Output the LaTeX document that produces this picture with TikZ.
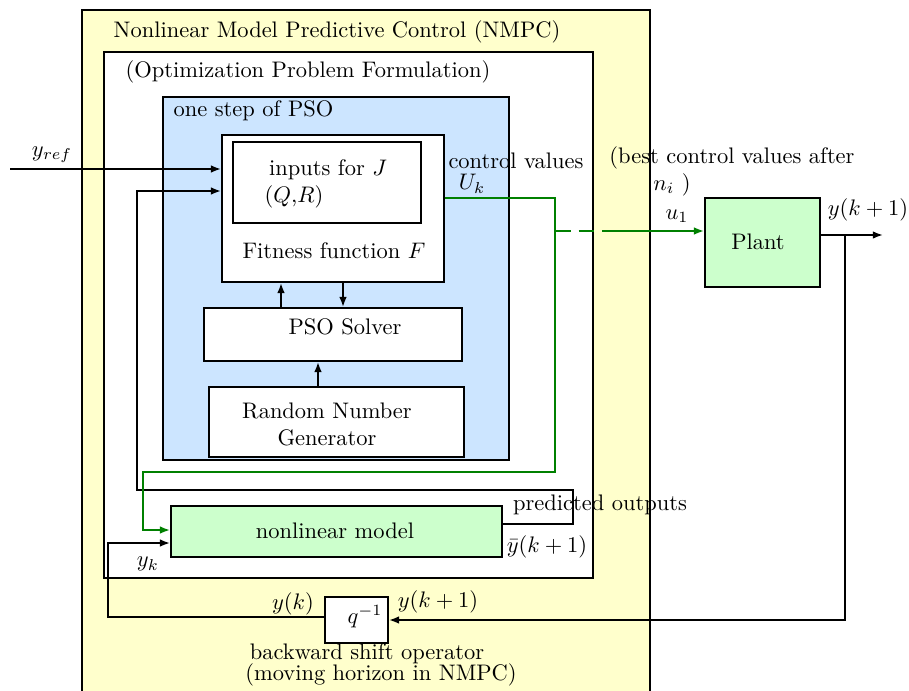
\documentclass[tikz,border=0pt]{standalone}
\usepackage{tikz}
\usetikzlibrary{arrows.meta,fit}

\definecolor{nmpcyellow}{RGB}{255,255,204}
\definecolor{psoblue}{RGB}{204,229,255}
\definecolor{modelgreen}{RGB}{204,255,204}
\definecolor{signalgreen}{RGB}{0,128,0}

\begin{document}
\begin{tikzpicture}[x=0.445pt, y=-0.445pt, font=\normalsize]
\tikzstyle{box}=[rectangle, draw, thick, inner sep=0pt, align=center]
\tikzstyle{lbl}=[inner sep=1pt, align=center]
\tikzstyle{sig}=[thick, -{Latex[length=1.6mm]}]
\tikzstyle{ctrl}=[thick, draw=signalgreen]
\useasboundingbox (0,0) rectangle (909,691);
% nested frames
\node[box, fill=nmpcyellow, fit={(82,10) (650,700)}] (nmpc) {};
\node[lbl] (nmpctitle) at (337,32) {Nonlinear Model Predictive Control (NMPC)};
\node[box, fill=white, fit={(104,52) (593,578)}] (opt) {};
\node[lbl] (opttitle) at (308,72) {(Optimization Problem Formulation)};
\node[box, fill=psoblue, fit={(163,97) (509,460)}] (pso) {};
\node[lbl, anchor=west] (psotitle) at (171,111) {one step of PSO};
% PSO blocks
\node[box, fill=white, fit={(222,135) (444,282)}] (fitness) {};
\node[box, fit={(233,142) (421,223)}] (inputs) {};
\node[lbl] (inputstxt) at (328,170) {inputs for $J$};
\node[lbl] (qr) at (294,197) {$(Q$,$R)$};
\node[lbl] (fitnesstxt) at (334,251) {Fitness function $F$};
\node[box, fill=white, fit={(204,308) (462,361)}] (solver) {};
\node[lbl] (solvertxt) at (345,327) {PSO Solver};
\node[box, fill=white, fit={(209,387) (464,457)}] (rng) {};
\node[lbl] (rngtxt) at (327,424) {Random Number\\Generator};
\node[box, fill=modelgreen, fit={(171,506) (502,557)}] (model) {};
\node[lbl] (modeltxt) at (335,531) {nonlinear model};
\node[box, fill=modelgreen, fit={(705,198) (820,287)}] (plant) {};
\node[lbl] (planttxt) at (758,242) {Plant};
\node[box, fill=white, fit={(325,597) (388,643)}] (shift) {};
\node[lbl] (shifttxt) at (365,617) {$q^{-1}$};
% signals
\coordinate (yrefin) at (10,169);
\coordinate (ubranch) at (555,231);
\coordinate (udash) at (617,231);
\coordinate (ytap) at (845,235);
\coordinate (yout) at (883,235);
\draw[sig] (yrefin) -- (yrefin -| fitness.west);
\draw[sig] (solver.north -| 281,0) -- (fitness.south -| 281,0);
\draw[sig] (fitness.south -| 343,0) -- (solver.north -| 343,0);
\draw[sig] (rng.north -| 318,0) -- (solver.south -| 318,0);
\draw[sig] (model.east |- 0,524) -| (573,490) -| (137,191) -- (fitness.west |- 0,191);
\draw[ctrl, -{Latex[length=1.6mm]}] (fitness.east |- 0,198) -| (555,472) -| (143,530) -- (model.west |- 0,530);
\draw[ctrl, dash pattern=on 7pt off 3.5pt] (ubranch) -- (udash);
\draw[ctrl, -{Latex[length=1.6mm]}] (udash) -- (plant.west |- udash);
\draw[sig] (plant.east |- yout) -- (yout);
\draw[sig] (ytap) -- (ytap |- 0,620) -- (shift.east |- 0,620);
\draw[sig] (shift.west |- 0,617) -| (108,543) -- (model.west |- 0,543);
% labels
\node[lbl] (yreflbl) at (52,155) {$y_{ref}$};
\node[lbl] (ctrllbl) at (516,161) {control values};
\node[lbl] (uklbl) at (472,184) {$U_k$};
\node[lbl] (bestlbl) at (732,158) {(best control values after};
\node[lbl] (nilbl) at (672,185) {$n_i$ )};
\node[lbl] (u1lbl) at (677,216) {$u_1$};
\node[lbl] (youtlbl) at (868,210) {$y(k+1)$};
\node[lbl] (predlbl) at (600,505) {predicted outputs};
\node[lbl] (ybarlbl) at (547,547) {$\bar{y}(k+1)$};
\node[lbl] (yklbl) at (148,564) {$y_k$};
\node[lbl] (ykclbl) at (293,604) {$y(k)$};
\node[lbl] (yk1lbl) at (438,602) {$y(k+1)$};
\node[lbl] (shiftlbl) at (367,654) {backward shift operator};
\node[lbl] (horizonlbl) at (381,675) {(moving horizon in NMPC)};
\end{tikzpicture}
\end{document}
